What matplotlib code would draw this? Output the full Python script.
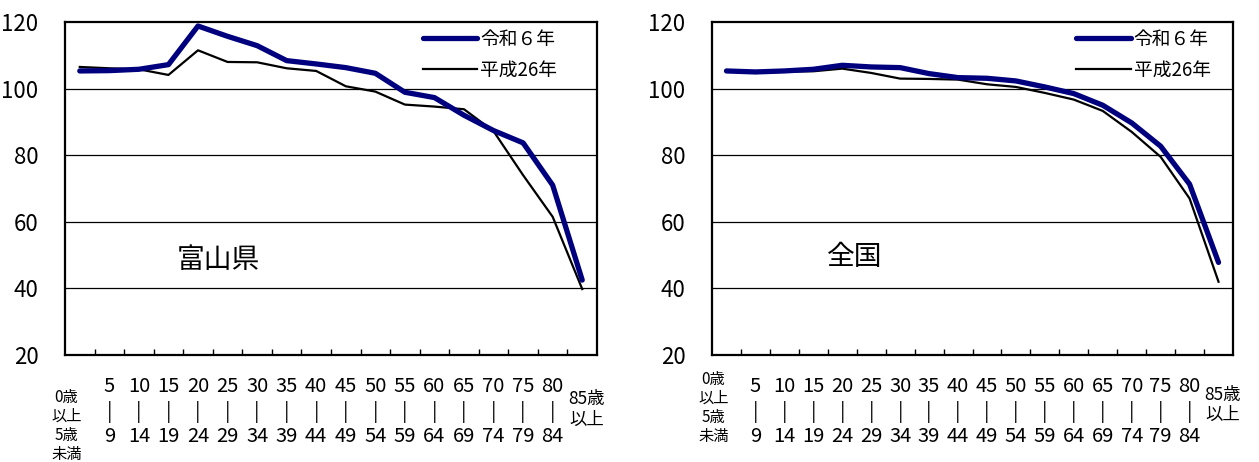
import matplotlib

matplotlib.use("Agg")

import matplotlib.pyplot as plt
import numpy as np
from matplotlib.lines import Line2D


# age groups (0-4 ... 80-84, 85+)
AGE_LABELS = ["0歳\n以上\n5歳\n未満"] + [f"{a}\n|\n{a + 4}" for a in range(5, 85, 5)] + ["85歳\n以上"]

TOYAMA_R6 = [105.3, 105.4, 105.8, 107.2, 118.8, 115.7, 112.9, 108.4, 107.4, 106.3,
             104.6, 98.9, 97.3, 92.0, 87.4, 83.7, 71.0, 42.5]
TOYAMA_H26 = [106.5, 106.1, 105.8, 104.1, 111.5, 108.0, 107.9, 106.1, 105.3, 100.7,
              99.1, 95.2, 94.6, 93.8, 87.2, 74.0, 61.5, 39.8]
JAPAN_R6 = [105.3, 105.0, 105.3, 105.8, 107.0, 106.5, 106.3, 104.5, 103.3, 103.1,
            102.3, 100.5, 98.5, 95.0, 89.7, 82.7, 71.3, 47.8]
JAPAN_H26 = [105.3, 104.7, 105.1, 105.2, 106.0, 104.7, 103.0, 102.9, 102.7, 101.3,
             100.5, 98.7, 96.7, 93.3, 87.0, 79.5, 67.0, 42.0]

SERIES_NAMES = ["令和６年", "平成26年"]
Y_TICKS = [20, 40, 60, 80, 100, 120]

NAVY = "#00007f"
NUM_FONT = ["Liberation Sans Narrow", "Noto Sans CJK JP", "DejaVu Sans"]
CJK_FONT = ["Noto Sans CJK JP", "DejaVu Sans"]

plt.rcParams["font.family"] = NUM_FONT


def draw_panel(ax, r6, h26, region, region_pos, legend_right, first_off, last_off):
    x = np.arange(len(AGE_LABELS))
    ax.plot(x, h26, color="black", linewidth=1.6, zorder=3)
    ax.plot(x, r6, color=NAVY, linewidth=3.8, solid_capstyle="round", zorder=4)

    ax.set_xlim(-0.5, len(x) - 0.5)
    ax.set_ylim(20, 120)
    ax.set_yticks(Y_TICKS)
    ax.tick_params(axis="y", length=0, pad=19, labelsize=16)
    for v in Y_TICKS[1:-1]:
        ax.axhline(v, color="black", linewidth=0.9, zorder=1)

    ax.set_xticks([])
    ax.set_xticks(np.arange(0.5, len(x) - 1), minor=True)
    ax.tick_params(axis="x", which="minor", direction="in", length=4, width=1, top=False)
    for sp in ax.spines.values():
        sp.set_linewidth(1.6)

    trans = ax.get_xaxis_transform()
    for i, lab in enumerate(AGE_LABELS):
        if i == 0:
            ax.annotate(lab, (i - 0.45, 0), xycoords=trans, xytext=(0, -first_off),
                        textcoords="offset points", ha="center", va="center",
                        fontsize=11, family=NUM_FONT, linespacing=1.15, annotation_clip=False)
        elif i == len(AGE_LABELS) - 1:
            ax.annotate(lab, (i + 0.15, 0), xycoords=trans, xytext=(0, -last_off),
                        textcoords="offset points", ha="center", va="center",
                        fontsize=12.5, family=NUM_FONT, linespacing=1.2, annotation_clip=False)
        else:
            ax.annotate(lab, (i, 0), xycoords=trans, xytext=(0, -41),
                        textcoords="offset points", ha="center", va="center",
                        fontsize=14.5, family=NUM_FONT, linespacing=1.22, annotation_clip=False)

    ax.text(region_pos[0], region_pos[1], region, transform=ax.transAxes,
            ha="center", va="center", fontsize=20, family=CJK_FONT)

    handles = [Line2D([], [], color=NAVY, linewidth=3.8, solid_capstyle="round"),
               Line2D([], [], color="black", linewidth=1.6)]
    leg = ax.legend(handles, SERIES_NAMES, loc="upper right", bbox_to_anchor=(legend_right, 0.98),
                    frameon=False, borderpad=0, borderaxespad=0, handlelength=2.9,
                    handletextpad=0.15, labelspacing=0.55, prop={"family": CJK_FONT, "size": 13.5})
    leg.set_zorder(5)


fig = plt.figure(figsize=(12.59, 4.62), dpi=100)
ax1 = fig.add_axes([65 / 1259, 1 - 355 / 462, 532 / 1259, 333 / 462])
ax2 = fig.add_axes([712 / 1259, 1 - 355 / 462, 521 / 1259, 333 / 462])

draw_panel(ax1, TOYAMA_R6, TOYAMA_H26, "富山県", (0.289, 0.285), 0.925, 51, 39)
draw_panel(ax2, JAPAN_R6, JAPAN_H26, "全国", (0.274, 0.294), 0.957, 38, 36)

fig.savefig("out.png", dpi=100)
plt.close(fig)
